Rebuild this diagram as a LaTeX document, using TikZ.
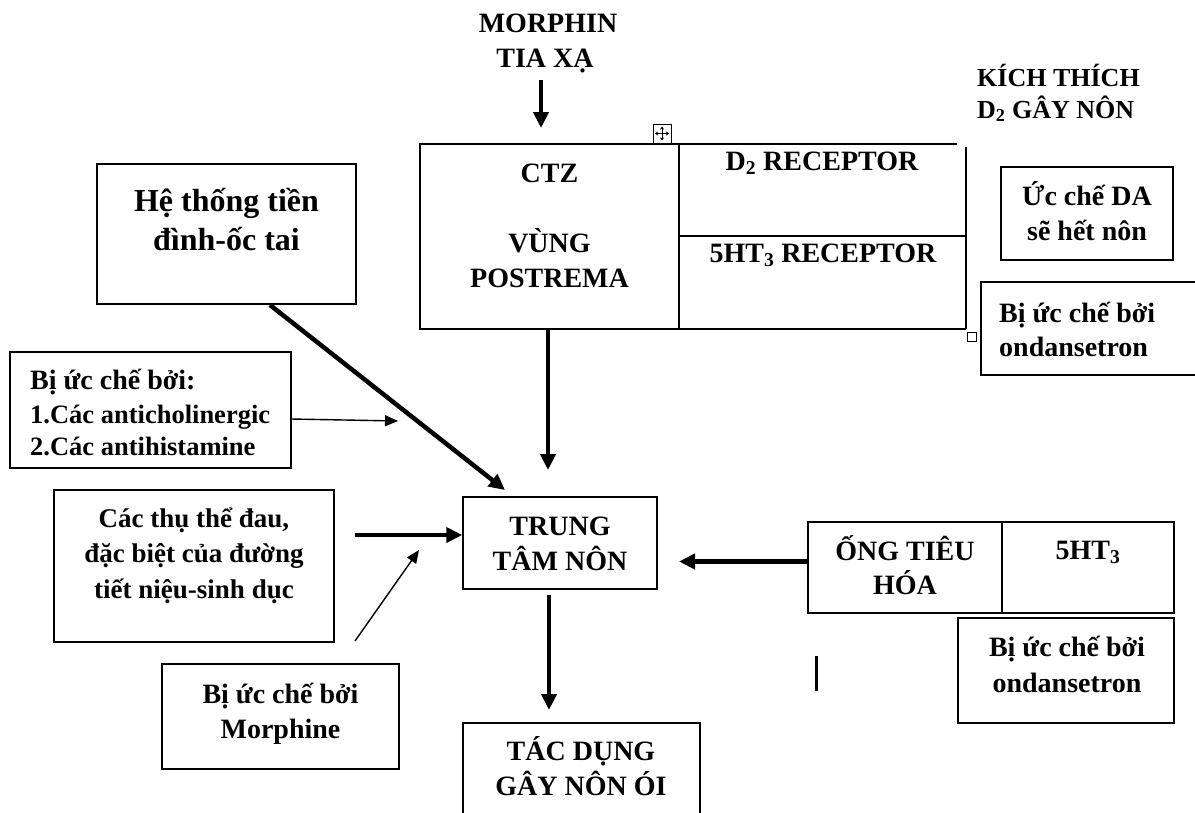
\documentclass[tikz,border=0pt]{standalone}
\usepackage{fontspec}
\setmainfont{Liberation Serif}
\usetikzlibrary{arrows.meta}
\begin{document}
\begin{tikzpicture}[x=1pt,y=-1pt,
  boxn/.style={draw, line width=1.5pt, inner sep=0pt},
  cell/.style={inner sep=0pt},
  bigarrow/.style={line width=4.5pt, -{Triangle[length=16pt,width=15pt]}},
  thinarrow/.style={line width=1.4pt, -{Triangle[length=13pt,width=11pt]}},
  tline/.style={line width=1.5pt},
  lbl/.style={inner sep=0pt, anchor=base, font=\bfseries\fontsize{28}{34}\selectfont},
  lblL/.style={lbl, anchor=base west},
  lblbig/.style={lbl, font=\bfseries\fontsize{32}{38}\selectfont},
  lblsm/.style={lblL, font=\bfseries\fontsize{26}{32}\selectfont},
  lblmd/.style={lbl, font=\bfseries\fontsize{27}{33}\selectfont},
  lblmdL/.style={lblL, font=\bfseries\fontsize{26.5}{33}\selectfont}
]
\clip (0,0) rectangle (1195,812);
\fill[white] (0,0) rectangle (1195,812);

% ---------- boxes ----------
\node[boxn, minimum width=259pt, minimum height=140pt] (heBox)   at (226.5,234) {};
\node[boxn, minimum width=281pt, minimum height=116pt] (anticBox) at (150.5,410) {};
\node[boxn, minimum width=280pt, minimum height=152pt] (dauBox)  at (194,566) {};
\node[boxn, minimum width=237pt, minimum height=105pt] (morBox)  at (280.5,716.5) {};
\node[boxn, minimum width=259pt, minimum height=185pt] (ctzCell) at (549.5,236.5) {};
\node[boxn, minimum width=194pt, minimum height=92pt]  (trungBox) at (560,543) {};
\node[boxn, minimum width=237pt, minimum height=117pt] (tacBox)  at (581.5,781.5) {};
\node[boxn, minimum width=194pt, minimum height=91pt]  (ongCell) at (905,567.5) {};
\node[boxn, minimum width=172pt, minimum height=91pt]  (htCell)  at (1088,567.5) {};
\node[boxn, minimum width=216pt, minimum height=105pt] (ondBoxB) at (1066,670.5) {};
\node[boxn, minimum width=172pt, minimum height=93pt]  (ucBox)   at (1087,213.5) {};
\node[boxn, minimum width=239pt, minimum height=93pt]  (ondBoxA) at (1100.5,328.5) {};

% receptor cells of the CTZ table
\node[cell, minimum width=286pt, minimum height=92pt] (d2Cell)  at (823,190) {};
\node[cell, minimum width=286pt, minimum height=93pt] (htrCell) at (823,282.5) {};
\draw[tline] (d2Cell.north west) -- ([xshift=-9pt]d2Cell.north east);
\draw[tline] ([yshift=-3pt]d2Cell.north east) -- (htrCell.south east);
\draw[tline] (d2Cell.south west) -- (d2Cell.south east);
\draw[tline] (htrCell.south west) -- (htrCell.south east);
\node[draw, line width=0.9pt, inner sep=0pt, minimum size=9pt] (rsz) at (971.5,336.5) {};

% table move handle
\node[draw, line width=1pt, inner sep=0pt, minimum width=18pt, minimum height=19pt] (handle) at (662,133.5) {};
\draw[line width=0.8pt, {Stealth[length=3pt,width=4pt]}-{Stealth[length=3pt,width=4pt]}] ([xshift=-7pt]handle.center) -- ([xshift=7pt]handle.center);
\draw[line width=0.8pt, {Stealth[length=3pt,width=4pt]}-{Stealth[length=3pt,width=4pt]}] ([yshift=-7pt]handle.center) -- ([yshift=7pt]handle.center);

% ---------- texts ----------
\node[lbl] (tMor) at (548,32) {MORPHIN};
\node[lbl] (tTia) at (545,67) {TIA XẠ};
\node[lbl] (tCtz) at (549.5,182) {CTZ};
\node[lbl] (tVung) at (549.5,252) {VÙNG};
\node[lbl] (tPost) at (549.5,287) {POSTREMA};
\node[lbl] (tD2) at (822,170) {D\textsubscript{2} RECEPTOR};
\node[lbl] (t5ht) at (823,262) {5HT\textsubscript{3} RECEPTOR};
\node[lblsm] (tKich) at (977,86) {KÍCH THÍCH};
\node[lblsm] (tGay) at (977,118) {D\textsubscript{2} GÂY NÔN};
\node[lbl] (tUc) at (1087,205) {Ức chế DA};
\node[lbl] (tSe) at (1087,240) {sẽ hết nôn};
\node[lblL] (tBiA) at (999,322) {Bị ức chế bởi};
\node[lblL] (tOndA) at (999,356) {ondansetron};
\node[lblbig] (tHe) at (226.5,211) {Hệ thống tiền};
\node[lblbig] (tDinh) at (226.5,250) {đình-ốc tai};
\node[lblL] (tBiC) at (30,389) {Bị ức chế bởi:};
\node[lblmdL] (tAch) at (30,423) {1.Các anticholinergic};
\node[lblmdL] (tAhi) at (30,455) {2.Các antihistamine};
\node[lblmd] (tThu) at (194,527) {Các thụ thể đau,};
\node[lblmd] (tDac) at (194,562) {đặc biệt của đường};
\node[lblmd] (tTiet) at (194,598) {tiết niệu-sinh dục};
\node[lbl] (tTrung) at (560,535) {TRUNG};
\node[lbl] (tTam) at (560,570) {TÂM NÔN};
\node[lbl] (tTac) at (581,760) {TÁC DỤNG};
\node[lbl] (tGayNon) at (581,795) {GÂY NÔN ÓI};
\node[lbl] (tOng) at (905,560) {ỐNG TIÊU};
\node[lbl] (tHoa) at (905,594) {HÓA};
\node[lbl] (t5h) at (1088,559) {5HT\textsubscript{3}};
\node[lbl] (tBiB) at (1067,656) {Bị ức chế bởi};
\node[lbl] (tOndB) at (1067,692) {ondansetron};
\node[lbl] (tBiM) at (280.5,703) {Bị ức chế bởi};
\node[lbl] (tMorph) at (280.5,738) {Morphine};

% ---------- connectors ----------
\coordinate (morS) at (541,80);
\coordinate (morT) at (541,128);
\draw[bigarrow] (morS) -- (morT);

\coordinate (ctzT) at (548,470);
\draw[bigarrow] (ctzCell.south -| ctzT) -- (ctzT);

\coordinate (heS) at (270,305);
\coordinate (heT) at (505,490);
\draw[bigarrow] (heS) -- (heT);

\coordinate (achS) at (291,419);
\coordinate (achT) at (398,421);
\draw[thinarrow] (achS) -- (achT);

\coordinate (dauS) at (355,535);
\draw[bigarrow] (dauS) -- (trungBox.west |- dauS);

\coordinate (morbS) at (355,641);
\coordinate (morbT) at (419,550);
\draw[thinarrow] (morbS) -- (morbT);

\coordinate (ongY) at (0,561.5);
\coordinate (ongT) at (679,561.5);
\draw[bigarrow] (ongCell.west |- ongY) -- (ongT);

\coordinate (trS) at (549,595);
\coordinate (trT) at (549,710);
\draw[bigarrow] (trS) -- (trT);

\coordinate (barA) at (816.5,656);
\coordinate (barB) at (816.5,691);
\draw[line width=2.5pt] (barA) -- (barB);
\end{tikzpicture}
\end{document}
